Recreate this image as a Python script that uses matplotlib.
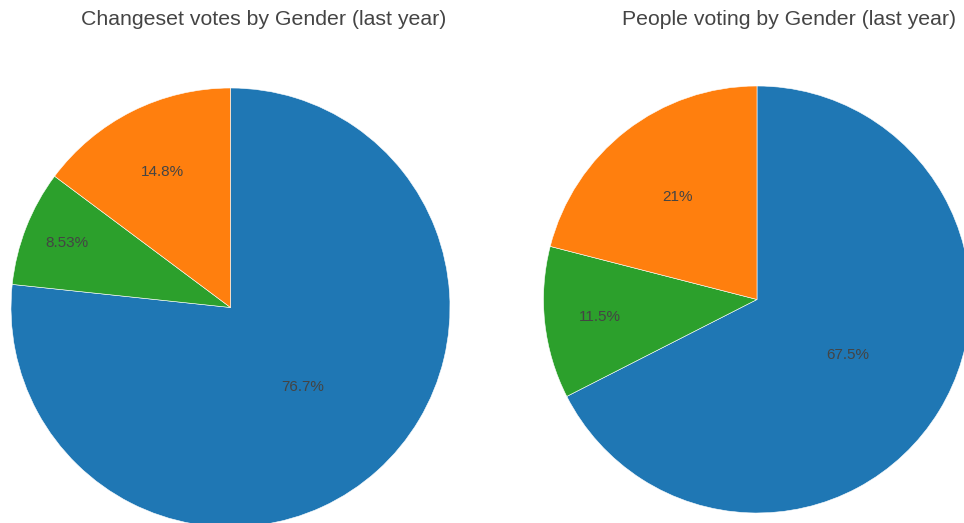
import matplotlib.pyplot as plt
import numpy as np

plt.rcParams["font.family"] = ["Liberation Sans", "DejaVu Sans"]

BLUE, ORANGE, GREEN = "#1f77b4", "#ff7f0e", "#2ca02c"
TEXT = "#444444"

# slices listed clockwise from 12 o'clock
votes_title = "Changeset votes by Gender (last year)"
votes_labels = ["76.7%", "8.53%", "14.8%"]
votes_values = [76.7, 8.53, 14.8]

people_title = "People voting by Gender (last year)"
people_labels = ["67.5%", "11.5%", "21%"]
people_values = [67.5, 11.5, 21.0]

colors = [BLUE, GREEN, ORANGE]

W, H = 964, 523


def pie_axes(fig, cx, cy, r):
    # place a square axes whose box is exactly the pie's bounding box (pixels)
    ax = fig.add_axes([(cx - r) / W, (H - cy - r) / H, 2 * r / W, 2 * r / H])
    ax.set_xlim(-1, 1)
    ax.set_ylim(-1, 1)
    ax.axis("off")
    return ax


def draw_pie(ax, values, labels, label_r):
    wedges, _ = ax.pie(values, colors=colors, startangle=90, counterclock=False,
                       radius=1, center=(0, 0), frame=True,
                       wedgeprops=dict(edgecolor="white", linewidth=0.4))
    ax.set_xlim(-1, 1)
    ax.set_ylim(-1, 1)
    ax.axis("off")
    for w, lab, rr in zip(wedges, labels, label_r):
        mid = np.deg2rad((w.theta1 + w.theta2) / 2)
        ax.text(rr * np.cos(mid), rr * np.sin(mid), lab, ha="center", va="center",
                fontsize=11, color=TEXT)


fig = plt.figure(figsize=(W / 100, H / 100), dpi=100)

ax1 = pie_axes(fig, 230.5, 307.5, 219.5)
draw_pie(ax1, votes_values, votes_labels, [0.49, 0.80, 0.69])

ax2 = pie_axes(fig, 757, 299.5, 213.5)
draw_pie(ax2, people_values, people_labels, [0.50, 0.74, 0.61])

fig.text(264 / W, 1 - 19.5 / H, votes_title, ha="center", va="center",
         fontsize=15.3, color=TEXT)
fig.text(789 / W, 1 - 19.5 / H, people_title, ha="center", va="center",
         fontsize=15.3, color=TEXT)

fig.savefig("out.png", dpi=100)
